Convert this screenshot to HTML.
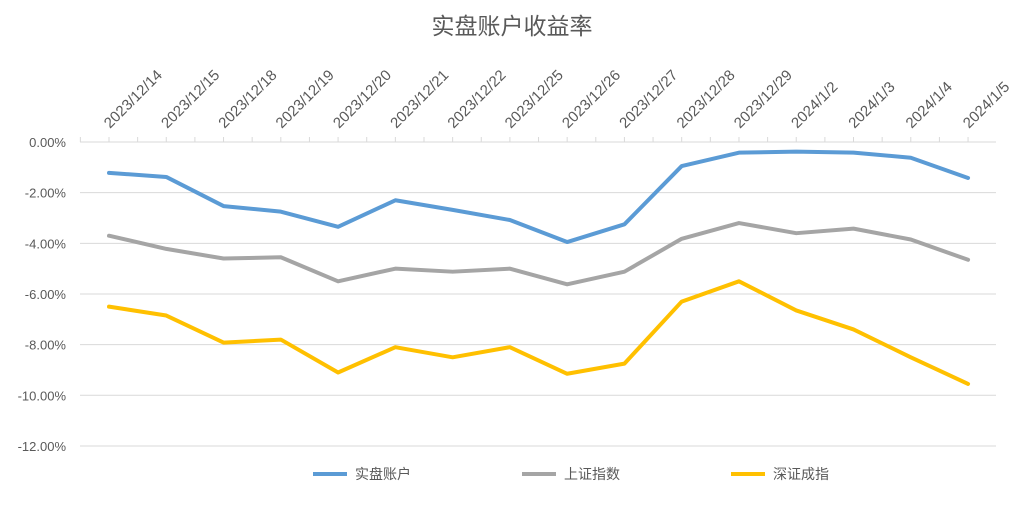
<!DOCTYPE html>
<html><head><meta charset="utf-8"><style>
body{margin:0;background:#fff;}
svg{display:block;font-family:"Liberation Sans","Noto Sans CJK SC",sans-serif;}
</style></head><body>
<svg id="chart" width="1024" height="509">
<text x="512" y="34" text-anchor="middle" font-size="23" fill="#595959">实盘账户收益率</text>
<g id="grid"></g><g id="xlabels"></g><g id="ylabels"></g><g id="series"></g>
<g>
<g><line x1="313" y1="474" x2="347" y2="474" stroke="#5b9bd5" stroke-width="4"/><text x="355" y="479" font-size="14" fill="#595959">实盘账户</text></g>
<g><line x1="522" y1="474" x2="556" y2="474" stroke="#a5a5a5" stroke-width="4"/><text x="564" y="479" font-size="14" fill="#595959">上证指数</text></g>
<g><line x1="731" y1="474" x2="765" y2="474" stroke="#ffc000" stroke-width="4"/><text x="773" y="479" font-size="14" fill="#595959">深证成指</text></g>
</g>
</svg>
<script>
const categories=["2023/12/14","2023/12/15","2023/12/18","2023/12/19","2023/12/20","2023/12/21","2023/12/22","2023/12/25","2023/12/26","2023/12/27","2023/12/28","2023/12/29","2024/1/2","2024/1/3","2024/1/4","2024/1/5"];
const accountVals=[-1.22,-1.38,-2.53,-2.75,-3.35,-2.3,-2.68,-3.08,-3.95,-3.25,-0.95,-0.42,-0.38,-0.42,-0.62,-1.42];
const shVals=[-3.7,-4.22,-4.6,-4.55,-5.5,-5.0,-5.12,-5.0,-5.62,-5.12,-3.82,-3.2,-3.6,-3.42,-3.85,-4.65];
const szVals=[-6.5,-6.85,-7.92,-7.8,-9.1,-8.1,-8.5,-8.1,-9.15,-8.75,-6.3,-5.5,-6.65,-7.4,-8.5,-9.55];
const yTicks=[0,-2,-4,-6,-8,-10,-12];
const NS="http://www.w3.org/2000/svg";
const x0=109,step=57.27,left=80,right=996;
const xs=i=>x0+i*step;
const ys=v=>142-v*25.33;
function mk(tag,attrs,parent){const e=document.createElementNS(NS,tag);for(const k in attrs)e.setAttribute(k,attrs[k]);parent.appendChild(e);return e;}
const grid=document.getElementById('grid');
yTicks.forEach(t=>{
 const l=mk('line',{x1:left,x2:right,y1:ys(t),y2:ys(t),stroke:'#d9d9d9','stroke-width':1},grid);
 
 
 const tx=mk('text',{x:66,y:ys(t)+5,'text-anchor':'end','font-size':13,fill:'#595959'},document.getElementById('ylabels'));
 tx.textContent=t.toFixed(2)+'%';
 
 
});
for(let i=0;i<=categories.length*2;i++){
 const x=x0-step/2+i*step/2;
 if(x<left||x>right)continue;
 mk('line',{x1:x,x2:x,y1:137,y2:142,stroke:'#d9d9d9'},grid);
}
categories.forEach((c,i)=>{
 const t=mk('text',{x:0,y:0,'font-size':15,fill:'#595959',transform:`translate(${xs(i)+1},${129}) rotate(-45)`},document.getElementById('xlabels'));
 t.textContent=c;
 
 
});
[[accountVals,'#5b9bd5','series-account'],[shVals,'#a5a5a5','series-sh'],[szVals,'#ffc000','series-sz']].forEach(([vals,col,name])=>{
 const p=mk('polyline',{points:vals.map((v,i)=>xs(i)+','+ys(v)).join(' '),fill:'none',stroke:col,'stroke-width':4,'stroke-linejoin':'round','stroke-linecap':'round'},document.getElementById('series'));
 
 
});
</script>
</body></html>
